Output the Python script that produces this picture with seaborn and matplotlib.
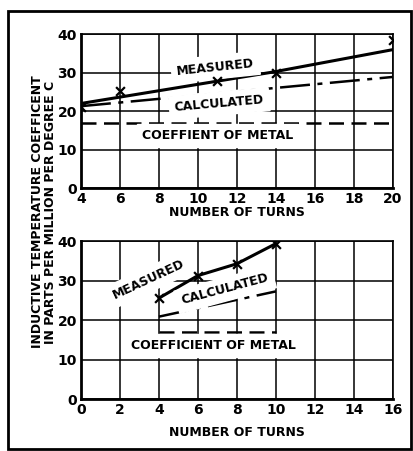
import numpy as np
import pandas as pd
import matplotlib
matplotlib.use("Agg")
import matplotlib.pyplot as plt
import seaborn as sns
from matplotlib.patches import Rectangle

# Du lieu doc tu hinh
# Do thi tren
top_meas_line_x = [4, 14, 14.3, 20]
top_meas_line_y = [22.0, 30.3, 30.6, 36.0]
top_meas_pts_x = [4, 6, 11, 14, 20]
top_meas_pts_y = [21.0, 25.3, 27.8, 30.0, 38.6]
top_calc_x = [4, 20]
top_calc_y = [21.3, 28.9]
top_metal_x = [4, 20]
top_metal_y = [16.8, 16.8]

# Do thi duoi
bot_meas_x = [4, 6, 8, 10]
bot_meas_y = [25.6, 31.3, 34.3, 39.4]
bot_calc_x = [4, 10]
bot_calc_y = [20.9, 27.3]
bot_metal_x = [4, 10]
bot_metal_y = [17.0, 17.0]

top_xticks = [4, 6, 8, 10, 12, 14, 16, 18, 20]
bot_xticks = [0, 2, 4, 6, 8, 10, 12, 14, 16]
yticks = [0, 10, 20, 30, 40]

sns.set_style("white")
plt.rcParams['font.family'] = ['DejaVu Sans']

fig = plt.figure(figsize=(4.13, 4.51), dpi=100)
ax1 = fig.add_axes([0.196, 0.583, 0.755, 0.341])
ax2 = fig.add_axes([0.196, 0.115, 0.755, 0.350])

font = dict(fontsize=9, fontweight='bold', color='black')


def style_axes(ax, xticks, xlim, lp):
    ax.set_xlim(*xlim)
    ax.set_ylim(0, 40)
    ax.set_xticks(xticks)
    ax.set_yticks(yticks)
    ax.grid(True, color='black', linewidth=1.1)
    ax.set_axisbelow(True)
    for side in ['left', 'bottom']:
        ax.spines[side].set_linewidth(2.0)
    for side in ['top', 'right']:
        ax.spines[side].set_linewidth(1.2)
    for s in ax.spines.values():
        s.set_color('black')
    ax.tick_params(length=0, pad=3, labelsize=10, colors='black')
    for lab in ax.get_xticklabels() + ax.get_yticklabels():
        lab.set_fontweight('bold')
    ax.set_xlabel('NUMBER OF TURNS', labelpad=lp, **font)
    ax.set_ylabel('')


# Tren
sns.lineplot(x=top_meas_line_x, y=top_meas_line_y, ax=ax1, color='black', lw=2.2, sort=False)
sns.scatterplot(x=top_meas_pts_x, y=top_meas_pts_y, ax=ax1, marker='x', color='black', s=40, linewidth=1.6, zorder=5)
sns.lineplot(x=top_calc_x, y=top_calc_y, ax=ax1, color='black', lw=1.8, linestyle=(0, (12, 3, 2, 3)))
sns.lineplot(x=top_metal_x, y=top_metal_y, ax=ax1, color='black', lw=1.8, linestyle=(0, (6, 3)))
style_axes(ax1, top_xticks, (4, 20), 0)
ax1.text(10.9, 31.4, 'MEASURED', rotation=6, ha='center', va='center', backgroundcolor='white', **font)
ax1.text(11.1, 22.0, 'CALCULATED', rotation=5, ha='center', va='center', backgroundcolor='white', **font)
ax1.text(11.0, 13.8, 'COEFFIENT OF METAL', ha='center', va='center', backgroundcolor='white', **font)

# Duoi
sns.lineplot(x=bot_meas_x, y=bot_meas_y, ax=ax2, color='black', lw=2.2)
sns.scatterplot(x=bot_meas_x, y=bot_meas_y, ax=ax2, marker='x', color='black', s=40, linewidth=1.6, zorder=5)
sns.lineplot(x=bot_calc_x, y=bot_calc_y, ax=ax2, color='black', lw=1.8, linestyle=(0, (12, 3, 2, 3)))
sns.lineplot(x=bot_metal_x, y=bot_metal_y, ax=ax2, color='black', lw=1.8, linestyle=(0, (6, 3)))
style_axes(ax2, bot_xticks, (0, 16), 6)
ax2.text(3.5, 30.3, 'MEASURED', rotation=25, ha='center', va='center', backgroundcolor='white', **font)
ax2.text(7.4, 27.8, 'CALCULATED', rotation=15, ha='center', va='center', backgroundcolor='white', **font)
ax2.text(6.8, 13.7, 'COEFFICIENT OF METAL', ha='center', va='center', backgroundcolor='white', **font)

fig.text(0.107, 0.53, 'INDUCTIVE TEMPERATURE COEFFICENT\nIN PARTS PER MILLION PER DEGREE C',
         rotation=90, ha='center', va='center', linespacing=0.95, **font)

# Khung ngoai
fig.patches.append(Rectangle((0.02, 0.005), 0.975, 0.97, transform=fig.transFigure,
                             fill=False, edgecolor='black', linewidth=2.0))

fig.savefig('out.png', dpi=100)
plt.close()
